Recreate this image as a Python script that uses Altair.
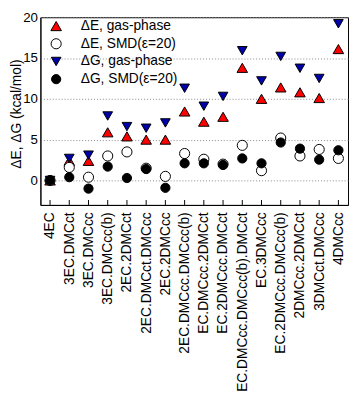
import altair as alt
import pandas as pd

categories = ["4EC", "3EC.DMCct", "3EC.DMCcc", "3EC.DMCcc(b)", "2EC.2DMCct",
              "2EC.DMCct.DMCcc", "2EC.2DMCcc", "2EC.DMCcc.DMCcc(b)", "EC.DMCcc.2DMCct",
              "EC.2DMCcc.DMCct", "EC.DMCcc.DMCcc(b).DMCct", "EC.3DMCcc",
              "EC.2DMCcc.DMCcc(b)", "2DMCcc.2DMCct", "3DMCct.DMCcc", "4DMCcc"]
dE_gas = [0, 2.4, 2.4, 5.9, 5.4, 5.0, 5.0, 8.45, 7.2, 7.8, 13.8, 10.0, 11.4, 10.8, 10.1, 16.1]
dE_smd = [0, 1.6, 0.4, 3.0, 3.5, 1.5, 0.5, 3.3, 2.6, 2.0, 4.3, 1.2, 5.2, 3.0, 3.8, 2.7]
dG_gas = [0, 2.7, 3.1, 7.9, 6.6, 6.4, 7.05, 11.3, 9.1, 10.3, 15.9, 12.2, 15.2, 13.75, 12.5, 19.2]
dG_smd = [0, 0.4, -1.0, 1.7, 0.3, 1.4, -0.9, 2.1, 2.1, 1.9, 2.7, 2.1, 4.65, 3.9, 2.55, 3.7]
series_names = ["ΔE, gas-phase", "ΔE, SMD(ε=20)", "ΔG, gas-phase", "ΔG, SMD(ε=20)"]
shapes = ["triangle-up", "circle", "triangle-down", "circle"]
fills = ["#ff0000", "#ffffff", "#0000aa", "#000000"]
sizes = [115, 88, 115, 88]

rows = []
for k, (s, vals) in enumerate(zip(series_names, [dE_gas, dE_smd, dG_gas, dG_smd])):
    for c, v in zip(categories, vals):
        rows.append({"cat": c, "series": s, "value": v, "k": k})
df = pd.DataFrame(rows)
legend_df = pd.DataFrame({"series": series_names})

W, H = 313, 191
FONT = "Liberation Sans"

shape_scale = alt.Scale(domain=series_names, range=shapes)
fill_scale = alt.Scale(domain=series_names, range=fills)
size_scale = alt.Scale(domain=series_names, range=sizes)

xscale = alt.Scale(type="point", padding=0.5)
x_enc = alt.X("cat:N", sort=categories, scale=xscale,
              axis=alt.Axis(title=None, labelAngle=-90, labelFontSize=14, labelPadding=7,
                            ticks=False, labelLimit=300, labelOverlap=False,
                            labelColor="black", domainColor="black", grid=False,
                            labelFont=FONT))
y_enc = alt.Y("value:Q", scale=alt.Scale(domain=[-3, 20], nice=False, zero=False),
              axis=alt.Axis(title="ΔE, ΔG (kcal/mol)", values=[0, 5, 10, 15, 20],
                            labelFontSize=13.5, labelPadding=3, ticks=False,
                            titleFontSize=14, titleFontWeight="normal", titleX=-17,
                            titleY=98,
                            labelColor="black", titleColor="black", domainColor="black",
                            grid=True, gridColor="#888888", gridDash=[1, 2],
                            labelFont=FONT, titleFont=FONT))

points = alt.Chart(df).mark_point(filled=True, stroke="black", strokeWidth=1, opacity=1).encode(
    x=x_enc, y=y_enc,
    shape=alt.Shape("series:N", scale=shape_scale, legend=None),
    fill=alt.Fill("series:N", scale=fill_scale, legend=None),
    size=alt.Size("series:N", scale=size_scale, legend=None),
    order=alt.Order("k:Q"),
)

ticks = alt.Chart(pd.DataFrame({"cat": categories})).mark_rule(color="black", strokeWidth=1).encode(
    x=alt.X("cat:N", sort=categories, scale=xscale),
    y=alt.value(H),
    y2=alt.value(H - 5),
)

leg_y = alt.Y("series:N", sort=series_names,
              scale=alt.Scale(type="point", domain=series_names, range=[9, 63], padding=0),
              axis=None)
leg_sym = alt.Chart(legend_df).mark_point(filled=True, stroke="black", strokeWidth=1, opacity=1).encode(
    x=alt.value(16), y=leg_y,
    shape=alt.Shape("series:N", scale=shape_scale, legend=None),
    fill=alt.Fill("series:N", scale=fill_scale, legend=None),
    size=alt.Size("series:N", scale=size_scale, legend=None),
)
leg_txt = alt.Chart(legend_df).mark_text(align="left", baseline="middle", fontSize=14,
                                         font=FONT, color="black").encode(
    x=alt.value(41), y=leg_y, text="series:N",
)

chart = alt.layer(points, ticks, leg_sym, leg_txt).resolve_scale(y="independent").properties(
    width=W, height=H,
    autosize=alt.AutoSizeParams(type="none"),
    padding={"left": 33, "top": 6, "right": 1, "bottom": 190},
).configure_view(stroke="black", strokeWidth=1)

chart.save("out.html", embed_options={"renderer": "svg", "actions": False})
